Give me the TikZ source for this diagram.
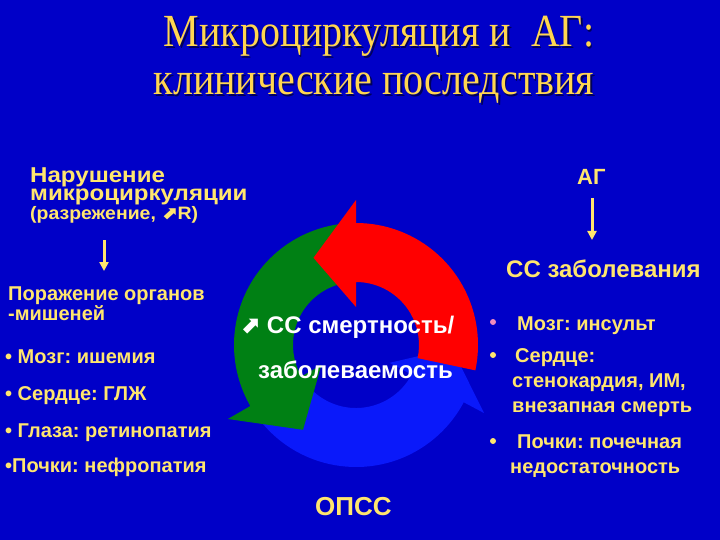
\documentclass[tikz,border=0pt]{standalone}
\usepackage{fontspec}
\usepackage{graphicx}
\setmainfont{Liberation Sans}
\newfontfamily\titlefont{Liberation Serif}
\newfontfamily\symfont{DejaVu Sans}
\definecolor{bg}{RGB}{0,0,200}
\definecolor{tyel}{RGB}{255,230,110}
\definecolor{tgold}{RGB}{255,214,80}
\definecolor{tshadow}{RGB}{0,0,90}
\definecolor{rgreen}{RGB}{0,128,20}
\definecolor{rred}{RGB}{255,0,0}
\definecolor{rblue}{RGB}{10,25,250}
\definecolor{bpink}{RGB}{240,140,190}
\usetikzlibrary{arrows.meta}
\tikzset{
  txt/.style={anchor=base west, inner sep=0pt, text=tyel, font=\fontsize{20}{24}\selectfont\bfseries},
  small/.style={txt, font=\fontsize{18}{20}\selectfont\bfseries},
  rtxt/.style={txt, font=\fontsize{20}{22}\selectfont\bfseries},
  ctxt/.style={anchor=base west, inner sep=0pt, text=white, font=\fontsize{24}{26}\selectfont\bfseries},
  ttl/.style={anchor=base, inner sep=0pt, text=tgold, font=\fontsize{40}{44}\selectfont\titlefont},
  ttlsh/.style={ttl, text=tshadow},
  yarrow/.style={draw=tyel, line width=3pt, -{Triangle[width=9pt,length=9pt]}},
  dot/.style={circle, inner sep=0pt, minimum size=6pt},
}
\newcommand{\ringarrow}[9]{%
  \fill[#1] (#2:#5) arc[start angle=#2, end angle=#3, radius=#5] -- (#3:#7) -- (#4:#9) -- (#3:#8) -- (#3:#6) arc[start angle=#3, end angle=#2, radius=#6] -- cycle;}
\newcommand{\neup}{{\symfont\bfseries ⬈}}
\frenchspacing
\begin{document}
\begin{tikzpicture}[x=1pt,y=-1pt]
\useasboundingbox (0,0) rectangle (720,540);
\fill[bg] (0,0) rectangle (720,540);
% title
\node[ttlsh] at (380.5,48.5) {\scalebox{1}[1.15]{Микроциркуляция и\ \ АГ:}};
\node[ttl] (t1) at (379,47) {\scalebox{1}[1.15]{Микроциркуляция и\ \ АГ:}};
\node[ttlsh] at (375.5,96.5) {\scalebox{1}[1.15]{клинические последствия}};
\node[ttl] (t2) at (374,95) {\scalebox{1}[1.15]{клинические последствия}};
% ring
\begin{scope}[shift={(356,345)}, yscale=-1]
  \ringarrow{rblue}{215}{332}{358}{122}{63}{145}{38}{96}
  \ringarrow{rgreen}{95}{210}{238}{122}{63}{148}{40}{100}
  \ringarrow{rred}{-12}{90}{116}{122}{63}{145}{38}{97}
\end{scope}
% left column
\node[txt] (n1) at (30,183) {\scalebox{1.12}[1]{\fontsize{21.5}{24}\selectfont Нарушение}};
\node[txt] (n2) at (30,201) {\scalebox{1.12}[1]{\fontsize{21.5}{24}\selectfont микроциркуляции}};
\node[small] (n3) at (30,220) {\scalebox{1.08}[1]{(разрежение, \neup R)}};
\coordinate (la) at (104,240);
\coordinate (lb) at (104,271);
\draw[yarrow] (la) -- (lb);
\node[txt] (p1) at (8,300) {Поражение органов};
\node[txt] (p2) at (8,320) {-мишеней};
\node[txt] (b1) at (5,363) {• Мозг: ишемия};
\node[txt] (b2) at (5,400) {• Сердце: ГЛЖ};
\node[txt] (b3) at (5,437) {• Глаза: ретинопатия};
\node[txt] (b4) at (5,472) {•Почки: нефропатия};
% right column
\node[txt, font=\fontsize{22}{26}\selectfont\bfseries] (ag) at (577,185) {АГ};
\coordinate (ra) at (592,198);
\coordinate (rb) at (592,240);
\draw[yarrow] (ra) -- (rb);
\node[txt, font=\fontsize{24}{26}\selectfont\bfseries] (cc) at (506,277) {СС заболевания};
\node[dot, fill=bpink] (d1) at (493,322) {};
\node[rtxt] (r1) at (517,330) {Мозг: инсульт};
\node[dot, fill=tyel] (d2) at (493,355) {};
\node[rtxt] (r2) at (515,362) {Сердце:};
\node[rtxt] (r3) at (512,387) {стенокардия, ИМ,};
\node[rtxt] (r4) at (512,412) {внезапная смерть};
\node[dot, fill=tyel] (d3) at (493,441) {};
\node[rtxt] (r5) at (517,448) {Почки: почечная};
\node[rtxt] (r6) at (510,473) {недостаточность};
% center
\node[ctxt] (c1) at (240,333) {\neup\ СС смертность/};
\node[ctxt] (c2) at (258,378) {заболеваемость};
\node[txt, font=\fontsize{26}{30}\selectfont\bfseries] (op) at (315,515) {ОПСС};
\end{tikzpicture}
\end{document}
